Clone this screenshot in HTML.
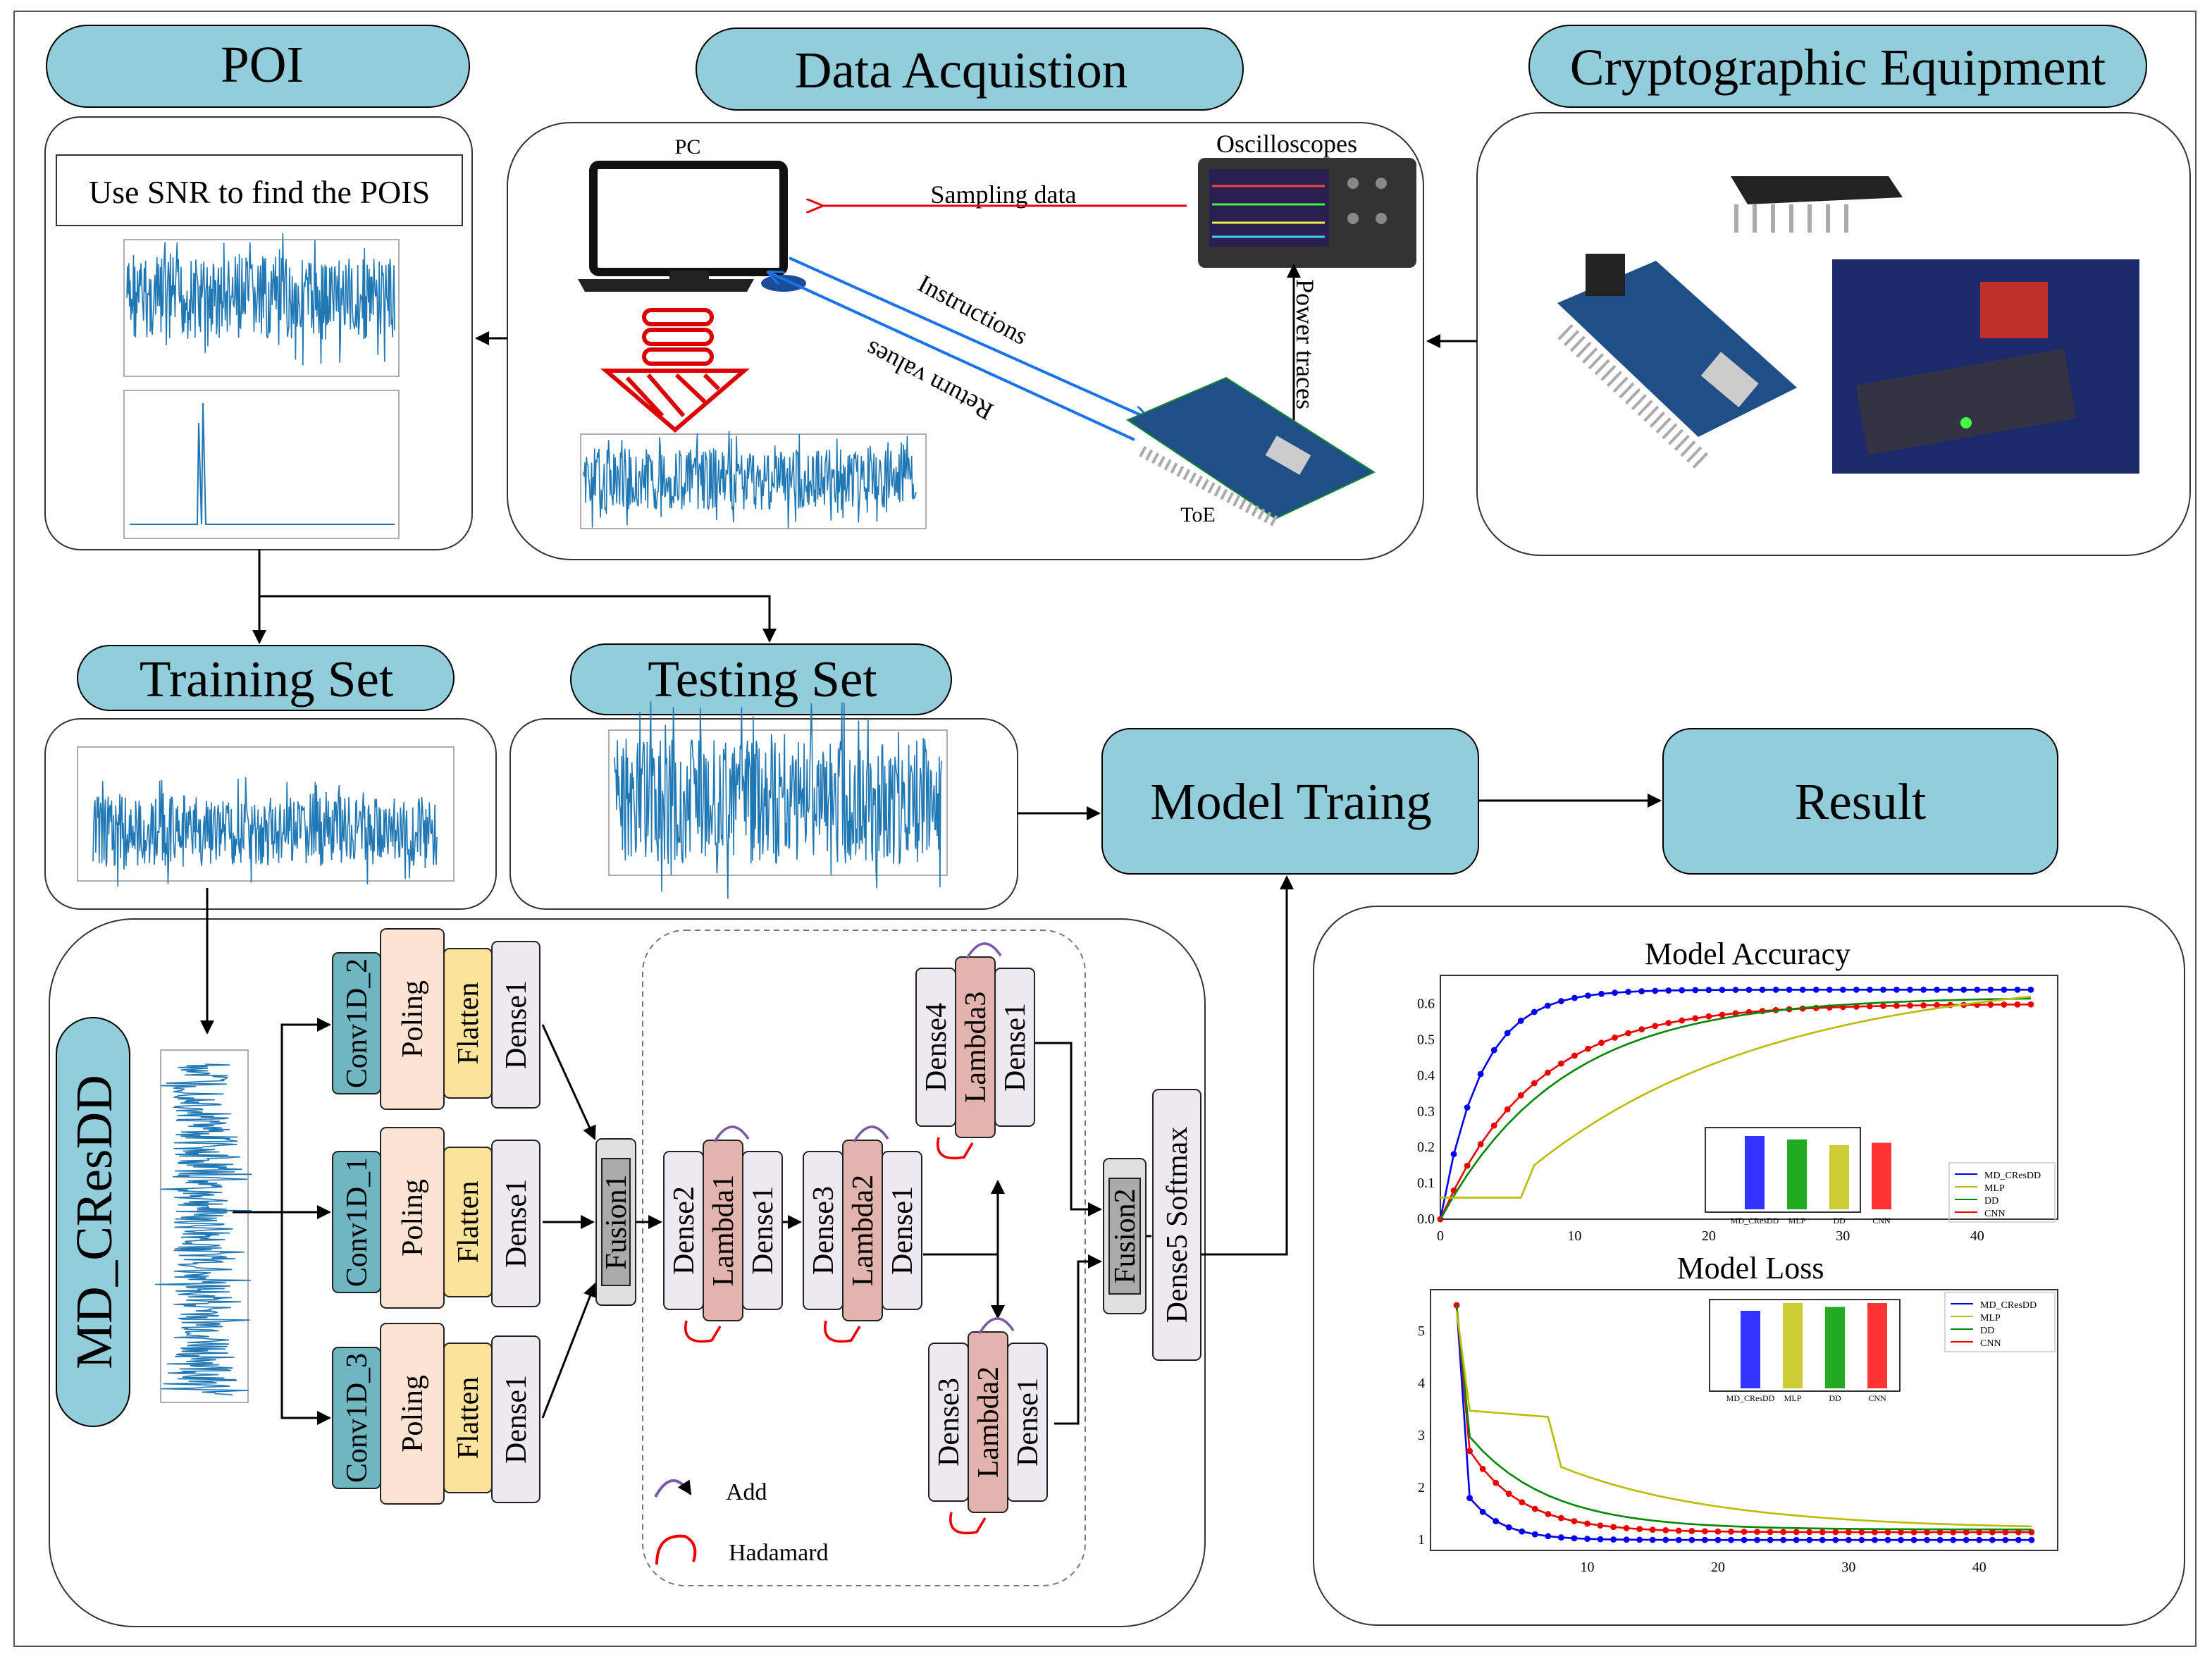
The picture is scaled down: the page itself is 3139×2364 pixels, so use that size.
<!DOCTYPE html>
<html><head><meta charset="utf-8"><style>
html,body{margin:0;padding:0;background:#fff;}
svg{display:block;}
text{font-family:"Liberation Serif",serif;}
</style></head><body>
<svg id="s" width="3139" height="2364" viewBox="0 0 1569.5 1182" xmlns="http://www.w3.org/2000/svg">
<defs>
<marker id="ah" markerWidth="10" markerHeight="10" refX="9" refY="5" orient="auto" markerUnits="userSpaceOnUse"><path d="M0,0 L10,5 L0,10 z" fill="#000"/></marker>
<marker id="ahr" markerWidth="12" markerHeight="10" refX="0" refY="5" orient="auto" markerUnits="userSpaceOnUse"><path d="M12,0 L0,5 L12,10" fill="none" stroke="#e00" stroke-width="1.5"/></marker>
<marker id="ahb" markerWidth="12" markerHeight="10" refX="11" refY="5" orient="auto" markerUnits="userSpaceOnUse"><path d="M0,0 L12,5 L0,10" fill="none" stroke="#1a73e8" stroke-width="1.5"/></marker>
</defs>
<rect x="10" y="8" width="1548" height="1160" fill="none" stroke="#555" stroke-width="1"/>
<g stroke="#000" stroke-width="1" fill="#92cddb">
<rect x="33" y="18" width="300" height="58" rx="29"/>
<rect x="494" y="20" width="388" height="58" rx="29"/>
<rect x="1085" y="18" width="438" height="58" rx="29"/>
<rect x="55" y="458" width="267" height="46" rx="23"/>
<rect x="405" y="457" width="270" height="50" rx="25"/>
<rect x="782" y="517" width="267" height="103" rx="20"/>
<rect x="1180" y="517" width="280" height="103" rx="20"/>
<rect x="40" y="722" width="52" height="290" rx="26"/>
</g>
<g fill="none" stroke="#333" stroke-width="1">
<rect x="32" y="83" width="303" height="307" rx="25"/>
<rect x="360" y="87" width="650" height="310" rx="45"/>
<rect x="1048" y="80" width="506" height="314" rx="45"/>
<rect x="32" y="510" width="320" height="135" rx="25"/>
<rect x="362" y="510" width="360" height="135" rx="25"/>
<rect x="35" y="652" width="820" height="502" rx="60"/>
<rect x="932" y="643" width="618" height="510" rx="45"/>
<rect x="40" y="110" width="288" height="50" fill="#fff"/>
<rect x="456" y="660" width="314" height="465" rx="30" stroke-dasharray="4,3" stroke="#777"/>
</g>
<g font-size="36.5" text-anchor="middle">
<text x="186" y="58">POI</text>
<text x="682" y="62">Data Acquistion</text>
<text x="1304" y="60">Cryptographic Equipment</text>
<text x="189" y="494">Training Set</text>
<text x="541" y="494">Testing Set</text>
<text x="916" y="581">Model Traing</text>
<text x="1320" y="581">Result</text>
<text transform="translate(79,867) rotate(-90)">MD_CResDD</text>
</g>
<text x="184" y="144" font-size="23" text-anchor="middle">Use SNR to find the POIS</text>
<text x="488" y="109" font-size="15" text-anchor="middle">PC</text>
<text x="913" y="108" font-size="18" text-anchor="middle">Oscilloscopes</text>
<text x="712" y="144" font-size="18" text-anchor="middle">Sampling data</text>
<text x="850" y="370" font-size="15" text-anchor="middle">ToE</text>
<text transform="translate(650,205) rotate(28)" font-size="18">Instructions</text>
<text transform="translate(706,288) rotate(208)" font-size="18">Return values</text>
<text transform="translate(920,198) rotate(90)" font-size="18">Power traces</text>
<rect x="421" y="117" width="135" height="76" rx="4" fill="#fff" stroke="#111" stroke-width="6"/>
<rect x="475" y="192" width="28" height="6" fill="#222"/>
<path d="M410,198 L535,198 L530,207 L415,207 z" fill="#222"/>
<ellipse cx="556" cy="201" rx="16" ry="6" fill="#1a4c9a"/>
<rect x="850" y="112" width="155" height="78" rx="5" fill="#333"/>
<rect x="858" y="120" width="85" height="55" fill="#2a2050"/>
<g stroke-width="1.5" fill="none"><path d="M860,132 h80" stroke="#e44"/><path d="M860,145 h80" stroke="#4e4"/><path d="M860,158 h80" stroke="#ee4"/><path d="M860,168 h80" stroke="#4cf"/></g>
<g fill="#888"><circle cx="960" cy="130" r="4"/><circle cx="980" cy="130" r="4"/><circle cx="960" cy="155" r="4"/><circle cx="980" cy="155" r="4"/></g>
<line x1="842" y1="146" x2="584" y2="146" stroke="#e00" stroke-width="1.5" marker-end="url(#ahr)"/>
<line x1="560" y1="183" x2="815" y2="297" stroke="#1a73e8" stroke-width="2" marker-end="url(#ahb)"/>
<line x1="805" y1="312" x2="545" y2="193" stroke="#1a73e8" stroke-width="2" marker-end="url(#ahb)"/>
<line x1="918" y1="305" x2="918" y2="188" stroke="#000" stroke-width="1.5" marker-end="url(#ah)"/>
<g fill="none" stroke="#d00" stroke-width="3">
<rect x="457" y="220" width="48" height="10" rx="5"/><rect x="457" y="234" width="48" height="10" rx="5"/><rect x="457" y="248" width="48" height="10" rx="5"/>
<path d="M430,263 L528,263 L479,305 z"/>
<path d="M445,268 L470,295 M460,266 L485,295 M480,266 L500,285 M500,266 L510,276"/>
</g>
<g><path d="M800,298 L870,268 L975,335 L905,368 z" fill="#1f4f86" stroke="#183" stroke-width="1"/><rect x="900" y="315" width="28" height="16" fill="#ccc" transform="rotate(30 914 323)"/><path d="M810,320 L905,370" stroke="#aaa" stroke-width="8" stroke-dasharray="2,3"/></g>
<path d="M1105,215 L1175,185 L1275,275 L1205,310 z" fill="#1f4f86"/>
<path d="M1110,235 L1210,330" stroke="#aaa" stroke-width="14" stroke-dasharray="2,4"/>
<rect x="1210" y="258" width="35" height="22" fill="#ccc" transform="rotate(40 1227 269)"/>
<rect x="1125" y="180" width="28" height="30" fill="#222"/>
<path d="M1228,125 L1340,125 L1350,140 L1240,145 z" fill="#222"/>
<path d="M1232,145 v20 M1245,145 v20 M1258,145 v20 M1271,145 v20 M1284,145 v20 M1297,145 v20 M1310,145 v20" stroke="#aaa" stroke-width="3"/>
<rect x="1300" y="184" width="218" height="152" fill="#1c2a6a"/>
<rect x="1320" y="260" width="150" height="50" fill="#334" transform="rotate(-10 1395 285)"/>
<rect x="1405" y="200" width="48" height="40" fill="#c0302a"/>
<circle cx="1395" cy="300" r="4" fill="#4f4"/>
<g fill="none" stroke="#999" stroke-width="0.8">
<rect x="88" y="170" width="195" height="97"/><rect x="88" y="277" width="195" height="105"/>
<rect x="412" y="308" width="245" height="67"/>
<rect x="55" y="530" width="267" height="95"/>
<rect x="432" y="518" width="240" height="103"/>
<rect x="114" y="745" width="62" height="250"/>
</g>
<g id="noise"></g>
<g stroke="#000" stroke-width="1.5" fill="none">
<line x1="360" y1="240" x2="338" y2="240" marker-end="url(#ah)"/>
<line x1="1048" y1="242" x2="1013" y2="242" marker-end="url(#ah)"/>
<polyline points="184,390 184,423 546,423 546,455" marker-end="url(#ah)"/>
<line x1="184" y1="423" x2="184" y2="456" marker-end="url(#ah)"/>
<line x1="722" y1="577" x2="780" y2="577" marker-end="url(#ah)"/>
<line x1="1049" y1="568" x2="1178" y2="568" marker-end="url(#ah)"/>
<polyline points="852,890 913,890 913,622" marker-end="url(#ah)"/>
<line x1="147" y1="630" x2="147" y2="733" marker-end="url(#ah)"/>
<line x1="165" y1="860" x2="234" y2="860" marker-end="url(#ah)"/>
<polyline points="200,860 200,727 234,727" marker-end="url(#ah)"/>
<polyline points="200,860 200,1006 234,1006" marker-end="url(#ah)"/>
<line x1="385" y1="727" x2="422" y2="808" marker-end="url(#ah)"/>
<line x1="385" y1="867" x2="421" y2="867" marker-end="url(#ah)"/>
<line x1="385" y1="1006" x2="422" y2="911" marker-end="url(#ah)"/>
<line x1="451" y1="867" x2="469" y2="867" marker-end="url(#ah)"/>
<line x1="555" y1="867" x2="568" y2="867" marker-end="url(#ah)"/>
<line x1="655" y1="890" x2="708" y2="890"/>
<line x1="708" y1="838" x2="708" y2="935" marker-end="url(#ah)"/>
<line x1="708" y1="900" x2="708" y2="838" marker-end="url(#ah)"/>
<polyline points="734,740 760,740 760,858 781,858" marker-end="url(#ah)"/>
<polyline points="748,1010 765,1010 765,895 781,895" marker-end="url(#ah)"/>
<line x1="813" y1="877" x2="817" y2="877"/>
</g>
<g id="layers" stroke="#222" stroke-width="1" font-size="21"></g>
<path d="M465,1062 q12,-22 25,-2" fill="none" stroke="#7a5aa5" stroke-width="2" marker-end="url(#ah)"/>
<text x="515" y="1064" font-size="17">Add</text>
<path d="M466,1110 q0,-22 20,-20 q10,5 6,18" fill="none" stroke="#e00" stroke-width="2"/>
<text x="517" y="1107" font-size="17">Hadamard</text>
<text x="1240" y="684" font-size="22" text-anchor="middle">Model Accuracy</text>
<text x="1242" y="907" font-size="22" text-anchor="middle">Model Loss</text>
<g fill="none" stroke="#000" stroke-width="0.8"><rect x="1022" y="692" width="438" height="173"/><rect x="1015" y="915" width="445" height="185"/>
<rect x="1210" y="800" width="110" height="60"/><rect x="1213" y="922" width="135" height="65"/>
<rect x="1383" y="825" width="75" height="42" stroke="#ccc"/><rect x="1380" y="917" width="78" height="42" stroke="#ccc"/></g>
<g id="chart"></g>
</svg>
<script>
var NS="http://www.w3.org/2000/svg";
function el(p,t,a,txt){var e=document.createElementNS(NS,t);for(var k in a)e.setAttribute(k,a[k]);if(txt!==undefined)e.textContent=txt;document.getElementById(p).appendChild(e);return e;}
var seed=7;function r(){seed=(seed*9301+49297)%233280;return seed/233280;}
function noise(x0,x1,yc,amp,n,vert){var d="";for(var i=0;i<=n;i++){var t=x0+(x1-x0)*i/n;var v=yc+(r()-0.5)*2*amp*(r()<0.15?1.6:1);d+=(i?"L":"M")+(vert?v+","+t:t+","+v);}el("noise","path",{d:d,fill:"none",stroke:"#1f77b4","stroke-width":"0.8"});}
noise(90,280,212,30,400);noise(414,650,340,22,450);noise(66,310,590,25,500);noise(436,668,568,45,450);noise(755,990,145,22,400,true);
el("noise","path",{d:"M92,372 H140 L141,300 L143,372 L144,286 L146,372 H280",fill:"none",stroke:"#1f77b4","stroke-width":"1"});
function L(x,y,w,h,fill,label,inner){el("layers","rect",{x:x,y:y,width:w,height:h,rx:4,fill:fill});if(inner)el("layers","rect",{x:x+4,y:y+14,width:w-8,height:h-28,fill:"#aaa"});el("layers","text",{transform:"translate("+(x+w/2+7)+","+(y+h/2)+") rotate(-90)","text-anchor":"middle",stroke:"none"},label);}
[0,141,280].forEach(function(o,i){var nm=["Conv1D_2","Conv1D_1","Conv1D_3"][i];L(236,676+o,34,100,"#6fb5c2",nm);L(270,659+o,45,128,"#fbe3d3","Poling");L(315,673+o,34,106,"#fbe49a","Flatten");L(349,668+o,34,118,"#eceaf0","Dense1");});
L(423,808,28,118,"#e0e0e0","Fusion1",true);L(783,822,30,110,"#e0e0e0","Fusion2",true);
L(818,773,34,192,"#eceaf0","Dense5  Softmax");
function B(x,y,a,b,c){L(x,y+8,28,112,"#eceaf0",a);L(x+56,y+8,28,112,"#eceaf0",c);L(x+28,y,28,128,"#e3b4ae",b);
el("layers","path",{d:"M"+(x+36)+","+(y+1)+" q12,-20 24,-2",fill:"none",stroke:"#7a5aa5","stroke-width":"1.8"});
el("layers","path",{d:"M"+(x+16)+","+(y+128)+" q-4,18 18,14 l6,-10",fill:"none",stroke:"#e00","stroke-width":"1.8"});}
B(471,809,"Dense2","Lambda1","Dense1");B(570,809,"Dense3","Lambda2","Dense1");B(650,679,"Dense4","Lambda3","Dense1");B(659,945,"Dense3","Lambda2","Dense1");
function axis(x0,y0,x1,y1,xt,yt,xv,yv){xt.forEach(function(v){var X=x0+(v-xv[0])/(xv[1]-xv[0])*(x1-x0);el("chart","text",{x:X,y:y1+15,"font-size":10,"text-anchor":"middle"},v);});yt.forEach(function(v){var Y=y1-(v-yv[0])/(yv[1]-yv[0])*(y1-y0);el("chart","text",{x:x0-4,y:Y+3,"font-size":10,"text-anchor":"end"},v);});}
axis(1022,692,1460,865,[0,10,20,30,40],[0.0,0.1,0.2,0.3,0.4,0.5,0.6].map(function(v){return v.toFixed(1)}),[0,46],[0,0.68]);
axis(1015,915,1460,1100,[10,20,30,40],[1,2,3,4,5],[-2,46],[0.8,5.8]);
function curve(f,x0,x1,y0,y1,xv,yv,col,mk){var d="";for(var i=0;i<=44;i++){var X=x0+(i-xv[0])/(xv[1]-xv[0])*(x1-x0);var Y=y1-(f(i)-yv[0])/(yv[1]-yv[0])*(y1-y0);d+=(i?"L":"M")+X+","+Y;if(mk)el("chart","circle",{cx:X,cy:Y,r:2.2,fill:col});}el("chart","path",{d:d,fill:"none",stroke:col,"stroke-width":"1.3"});}
var A=[1022,1460,692,865,[0,46],[0,0.68]];
curve(function(i){return 0.64*(1-Math.exp(-i/3))},A[0],A[1],A[2],A[3],A[4],A[5],"#0000ee",true);
curve(function(i){return 0.6*(1-Math.exp(-i/7))},A[0],A[1],A[2],A[3],A[4],A[5],"#ee0000",true);
curve(function(i){return 0.62*(1-Math.exp(-i/9))},A[0],A[1],A[2],A[3],A[4],A[5],"#008800",false);
curve(function(i){return i<7?0.06:0.57*(1-Math.exp(-(i-6)/18))+0.12},A[0],A[1],A[2],A[3],A[4],A[5],"#bbbb00",false);
var B2=[1015,1460,915,1100,[-2,46],[0.8,5.8]];
curve(function(i){return i==0?5.5:1+1.2*Math.exp(-i/2.5)},B2[0],B2[1],B2[2],B2[3],B2[4],B2[5],"#0000ee",true);
curve(function(i){return i==0?5.5:1.15+2*Math.exp(-i/4)},B2[0],B2[1],B2[2],B2[3],B2[4],B2[5],"#ee0000",true);
curve(function(i){return i==0?5.5:1.2+2.1*Math.exp(-i/6)},B2[0],B2[1],B2[2],B2[3],B2[4],B2[5],"#008800",false);
curve(function(i){return i==0?5.4:(i<8?3.5-i*0.02:1.2+1.2*Math.exp(-(i-8)/12))},B2[0],B2[1],B2[2],B2[3],B2[4],B2[5],"#bbbb00",false);
var names=["MD_CResDD","MLP","DD","CNN"];var bc=["#3333ff","#22aa22","#cccc33","#ff3333"];
[0.65,0.62,0.57,0.59].forEach(function(v,i){el("chart","rect",{x:1238+i*30,y:858-v*80,width:14,height:v*80,fill:bc[i]});el("chart","text",{x:1245+i*30,y:868,"font-size":6,"text-anchor":"middle"},names[i]);});
[1.0,1.1,1.05,1.1].forEach(function(v,i){el("chart","rect",{x:1235+i*30,y:985-v*55,width:14,height:v*55,fill:["#3333ff","#cccc33","#22aa22","#ff3333"][i]});el("chart","text",{x:1242+i*30,y:994,"font-size":6,"text-anchor":"middle"},["MD_CResDD","MLP","DD","CNN"][i]);});
["MD_CResDD","MLP","DD","CNN"].forEach(function(n,i){el("chart","line",{x1:1387,y1:833+i*9,x2:1403,y2:833+i*9,stroke:["#0000ee","#bbbb00","#008800","#ee0000"][i]});el("chart","text",{x:1408,y:836+i*9,"font-size":7},n);
el("chart","line",{x1:1384,y1:925+i*9,x2:1400,y2:925+i*9,stroke:["#0000ee","#bbbb00","#008800","#ee0000"][i]});el("chart","text",{x:1405,y:928+i*9,"font-size":7},n);});
</script>
</body></html>
